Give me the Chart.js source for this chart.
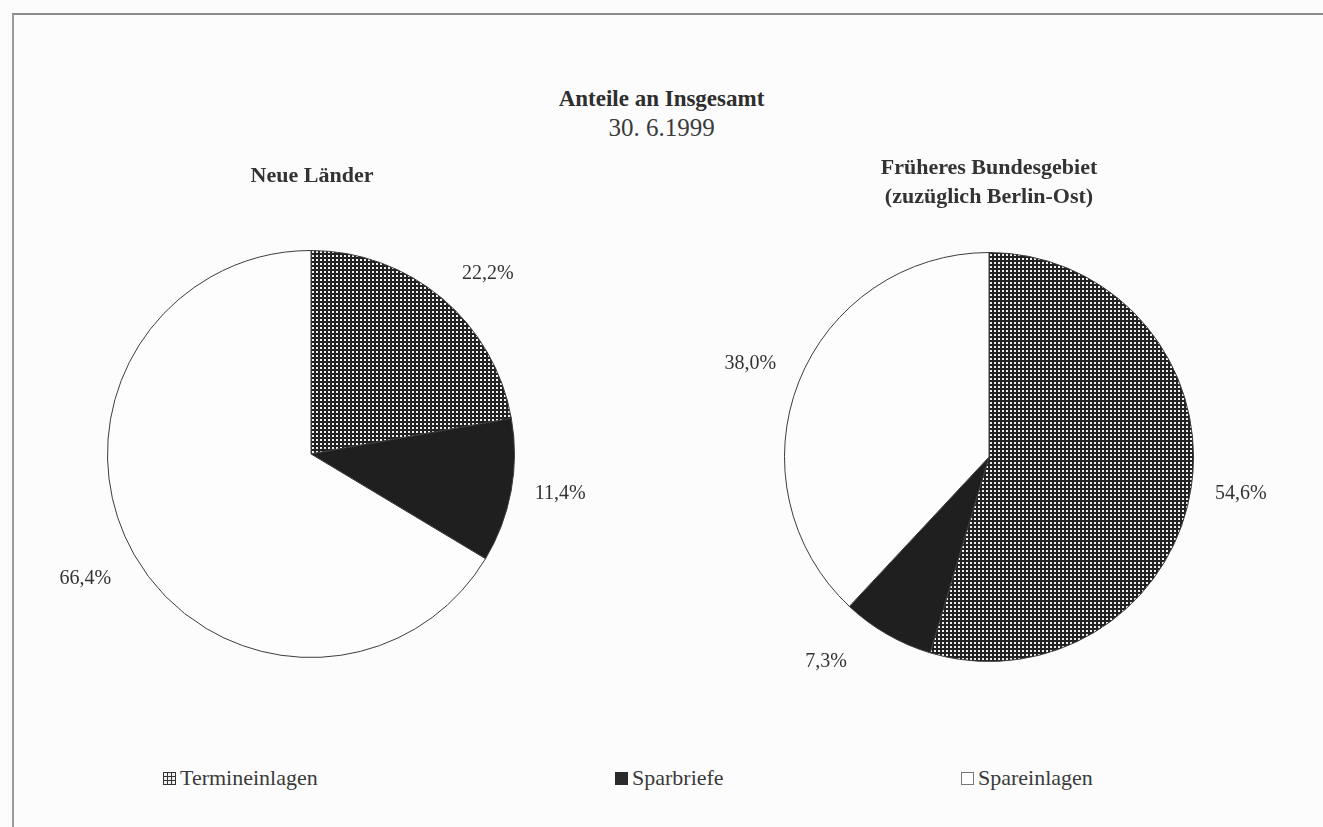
<!DOCTYPE html>
<html lang="de">
<head>
<meta charset="utf-8">
<title>Anteile an Insgesamt</title>
<script src="https://cdn.jsdelivr.net/npm/chart.js@4.4.1/dist/chart.umd.min.js"></script>
<style>
  body { margin: 0; width: 1323px; height: 827px; background: #fcfcfc; position: relative; overflow: hidden;
         font-family: "Liberation Serif", "DejaVu Serif", serif; color: #333; }
  .frame { position: absolute; left: 12px; top: 13px; right: -4px; bottom: -4px;
           border-top: 2px solid #8c8c8c; border-left: 2px solid #9a9a9a; }
  .txt { position: absolute; text-align: center; white-space: nowrap; z-index: 2; }
  .title { left: 0; width: 1323px; top: 86px; font-size: 23px; font-weight: bold; color: #2e2e2e; }
  .date { left: 0; width: 1323px; top: 114px; font-size: 25px; color: #3a3a3a; }
  .sub { font-size: 22px; font-weight: bold; color: #333; line-height: 29px; }
  canvas.pie { position: absolute; z-index: 1; }
  .legend { position: absolute; top: 765px; font-size: 22px; color: #3a3a3a; display: flex; align-items: center; }
  .legend canvas { margin-right: 4px; }
</style>
</head>
<body>
<div class="frame"></div>
<div class="txt title">Anteile an Insgesamt</div>
<div class="txt date">30. 6.1999</div>
<div class="txt sub" style="left:162px;width:300px;top:160px;">Neue Länder</div>
<div class="txt sub" style="left:789px;width:400px;top:152px;">Früheres Bundesgebiet<br>(zuzüglich Berlin-Ost)</div>

<canvas id="pieNeu" class="pie" width="600" height="600" style="left:11px;top:154px;"></canvas>
<canvas id="pieAlt" class="pie" width="600" height="600" style="left:689px;top:157px;"></canvas>

<div id="legend"></div>

<script>
const categories = ['Termineinlagen', 'Sparbriefe', 'Spareinlagen'];
const neueLaender = [22.2, 11.4, 66.4];
const fruehBundesgebiet = [54.6, 7.3, 38.0];

// fine cross hatch used for Termineinlagen
function makeHatch() {
  const c = document.createElement('canvas');
  c.width = 4; c.height = 4;
  const g = c.getContext('2d');
  g.fillStyle = '#222';
  g.fillRect(0, 0, 4, 4);
  g.fillStyle = '#f0f0f0';
  g.fillRect(1, 1, 2, 2);
  return g.createPattern(c, 'repeat');
}

const hatch = makeHatch();
const fills = [hatch, '#1f1f1f', '#fdfdfd'];

// percentage labels outside each slice, with a small per-slice nudge
const outsideLabels = {
  id: 'outsideLabels',
  afterDatasetsDraw(chart, args, opts) {
    const ctx = chart.ctx;
    const data = chart.data.datasets[0].data;
    const nudge = opts.nudge || [];
    ctx.save();
    ctx.font = '20px "Liberation Serif", serif';
    ctx.fillStyle = '#333';
    ctx.textAlign = 'center';
    ctx.textBaseline = 'middle';
    chart.getDatasetMeta(0).data.forEach((arc, i) => {
      const p = arc.getProps(['x', 'y', 'startAngle', 'endAngle', 'outerRadius'], true);
      const mid = (p.startAngle + p.endAngle) / 2;
      const r = p.outerRadius + 50;
      const [dx, dy] = nudge[i] || [0, 0];
      const text = data[i].toFixed(1).replace('.', ',') + '%';
      ctx.fillText(text, p.x + Math.cos(mid) * r + dx, p.y + Math.sin(mid) * r + dy);
    });
    ctx.restore();
  }
};

function drawPie(id, values, pad, nudge) {
  new Chart(document.getElementById(id), {
    type: 'pie',
    data: {
      labels: categories,
      datasets: [{
        data: values,
        backgroundColor: fills,
        borderColor: '#3c3c3c',
        borderWidth: 1
      }]
    },
    options: {
      responsive: false,
      animation: false,
      devicePixelRatio: 1,
      layout: { padding: pad },
      plugins: {
        legend: { display: false },
        tooltip: { enabled: false },
        outsideLabels: { nudge: nudge }
      }
    },
    plugins: [outsideLabels]
  });
}

drawPie('pieNeu', neueLaender, 96, [[14, 14], [0, -6], [-5, 0]]);
drawPie('pieAlt', fruehBundesgebiet, 95, [[0, 0], [-36, -16], [-2, 0]]);

// legend row below the pies
const legendX = [163, 615, 961];
const legend = document.getElementById('legend');
categories.forEach((name, i) => {
  const item = document.createElement('div');
  item.className = 'legend';
  item.style.left = legendX[i] + 'px';
  const sw = document.createElement('canvas');
  sw.width = 13; sw.height = 13;
  const g = sw.getContext('2d');
  if (i === 0) {
    g.fillStyle = '#333';
    g.fillRect(0, 0, 13, 13);
    g.fillStyle = '#eee';
    for (let a = 0; a < 3; a++) for (let b = 0; b < 3; b++) g.fillRect(1 + a * 4, 1 + b * 4, 3, 3);
  } else if (i === 1) {
    g.fillStyle = '#2a2a2a';
    g.fillRect(0, 0, 13, 13);
  } else {
    g.fillStyle = '#fff';
    g.fillRect(0, 0, 13, 13);
    g.strokeStyle = '#777';
    g.strokeRect(0.5, 0.5, 12, 12);
  }
  item.appendChild(sw);
  item.appendChild(document.createTextNode(name));
  legend.appendChild(item);
});
</script>
</body>
</html>
